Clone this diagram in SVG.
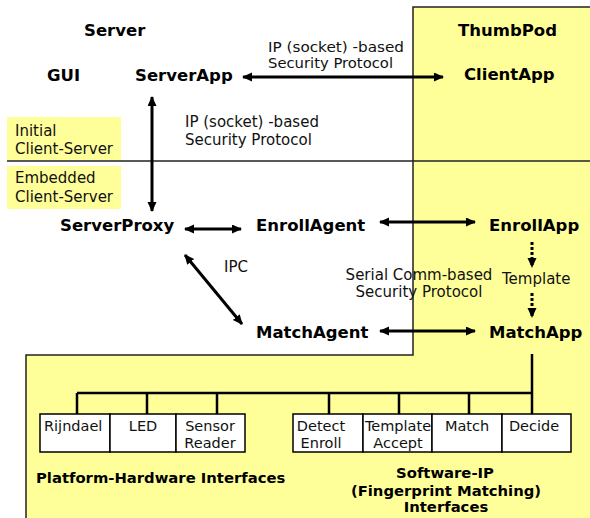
<svg xmlns="http://www.w3.org/2000/svg" width="590" height="518" viewBox="0 0 590 518">
<style>
.b{font-family:"DejaVu Sans",Verdana,sans-serif;font-weight:bold;font-size:16.5px;fill:#000}
.n{font-family:"DejaVu Sans",Verdana,sans-serif;font-size:15px;fill:#111}
.t{font-family:"DejaVu Sans",Verdana,sans-serif;font-size:14px;fill:#111}
.s{font-family:"DejaVu Sans",Verdana,sans-serif;font-size:14.5px;fill:#111}
.h{font-family:"DejaVu Sans",Verdana,sans-serif;font-weight:bold;font-size:14.8px;fill:#000}
.ar{stroke:#000;stroke-width:3;fill:none}
.dl{stroke:#000;stroke-width:3;fill:none;stroke-dasharray:3 2}
.bus{stroke:#000;stroke-width:2.5;fill:none}
.box{fill:#fff;stroke:#000;stroke-width:1.5}
.lbl{fill:#ffff99}
</style>
<defs>
<marker id="ah" markerUnits="userSpaceOnUse" markerWidth="11" markerHeight="10" refX="9" refY="4.5" orient="auto-start-reverse">
<path d="M0,0 L10,4.5 L0,9 z" fill="#000"/>
</marker>
</defs>
<rect width="590" height="518" fill="#fff"/>
<g id="regions">
<path d="M413,7 H592 V520 H26 V355 H413 Z" fill="#ffff99" stroke="#222" stroke-width="1.5"/>
<line x1="7" y1="161" x2="590" y2="161" stroke="#222" stroke-width="1.5"/>
</g>
<g id="label-initial">
<rect class="lbl" x="7" y="117" width="114" height="43"/>
<text class="n" x="15" y="136">Initial</text>
<text class="n" x="15" y="154">Client-Server</text>
</g>
<g id="label-embedded">
<rect class="lbl" x="7" y="166" width="114" height="43"/>
<text class="n" x="15" y="183">Embedded</text>
<text class="n" x="15" y="202">Client-Server</text>
</g>
<g id="title-server"><text class="b" x="84" y="36">Server</text></g>
<g id="title-thumbpod"><text class="b" x="458" y="36">ThumbPod</text></g>
<g id="gui"><text class="b" x="47" y="81">GUI</text></g>
<g id="serverapp"><text class="b" x="135" y="81">ServerApp</text></g>
<g id="clientapp"><text class="b" x="464" y="80">ClientApp</text></g>
<g id="serverproxy"><text class="b" x="60" y="231">ServerProxy</text></g>
<g id="enrollagent"><text class="b" x="256" y="231">EnrollAgent</text></g>
<g id="enrollapp"><text class="b" x="489" y="231">EnrollApp</text></g>
<g id="matchagent"><text class="b" x="256" y="338">MatchAgent</text></g>
<g id="matchapp"><text class="b" x="489" y="338">MatchApp</text></g>
<g id="connectors">
<line class="ar" x1="243" y1="77" x2="443" y2="77" marker-start="url(#ah)" marker-end="url(#ah)"/>
<line class="ar" x1="152" y1="97" x2="152" y2="211" marker-start="url(#ah)" marker-end="url(#ah)"/>
<line class="ar" x1="185" y1="229" x2="241" y2="229" marker-start="url(#ah)" marker-end="url(#ah)"/>
<line class="ar" x1="380" y1="222" x2="475" y2="222" marker-start="url(#ah)" marker-end="url(#ah)"/>
<line class="ar" x1="185" y1="255" x2="242" y2="324" marker-start="url(#ah)" marker-end="url(#ah)"/>
<line class="ar" x1="380" y1="331" x2="475" y2="331" marker-start="url(#ah)" marker-end="url(#ah)"/>
<line class="dl" x1="532" y1="242" x2="532" y2="267" marker-end="url(#ah)"/>
<line class="dl" x1="532" y1="293" x2="532" y2="317" marker-end="url(#ah)"/>
<path class="bus" d="M532,354 V414 M77,393 H532 M77,393 V414 M147,393 V414 M217,393 V414 M329,393 V414 M399,393 V414 M469,393 V414"/>
</g>
<g id="conn-labels">
<text class="t" x="268" y="52" textLength="136" lengthAdjust="spacingAndGlyphs">IP (socket) -based</text>
<text class="t" x="268" y="68" textLength="125" lengthAdjust="spacingAndGlyphs">Security Protocol</text>
<text class="n" x="185" y="127">IP (socket) -based</text>
<text class="n" x="185" y="145">Security Protocol</text>
<text class="n" x="224" y="272">IPC</text>
<text class="n" x="419" y="280" text-anchor="middle">Serial Comm-based</text>
<text class="n" x="419" y="297" text-anchor="middle">Security Protocol</text>
<text class="n" x="502" y="284">Template</text>
</g>
<g id="box-rijndael"><rect class="box" x="40" y="414" width="70" height="38"/><text class="s" x="44" y="431">Rijndael</text></g>
<g id="box-led"><rect class="box" x="110" y="414" width="66" height="38"/><text class="s" x="143" y="431" text-anchor="middle">LED</text></g>
<g id="box-sensor"><rect class="box" x="176" y="414" width="69" height="38"/><text class="s" x="210" y="431" text-anchor="middle">Sensor</text><text class="s" x="210" y="448" text-anchor="middle">Reader</text></g>
<g id="box-detect"><rect class="box" x="293" y="414" width="70" height="38"/><text class="s" x="321" y="431" text-anchor="middle">Detect</text><text class="s" x="321" y="448" text-anchor="middle">Enroll</text></g>
<g id="box-template"><rect class="box" x="363" y="414" width="69" height="38"/><text class="s" x="398" y="431" text-anchor="middle">Template</text><text class="s" x="398" y="448" text-anchor="middle">Accept</text></g>
<g id="box-match"><rect class="box" x="432" y="414" width="70" height="38"/><text class="s" x="467" y="431" text-anchor="middle">Match</text></g>
<g id="box-decide"><rect class="box" x="502" y="414" width="69" height="38"/><text class="s" x="534" y="431" text-anchor="middle">Decide</text></g>
<g id="group-platform"><text class="h" x="36" y="483">Platform-Hardware Interfaces</text></g>
<g id="group-software">
<text class="h" x="445" y="478" text-anchor="middle">Software-IP</text>
<text class="h" x="446" y="496" text-anchor="middle">(Fingerprint Matching)</text>
<text class="h" x="446" y="512" text-anchor="middle">Interfaces</text>
</g>
</svg>
